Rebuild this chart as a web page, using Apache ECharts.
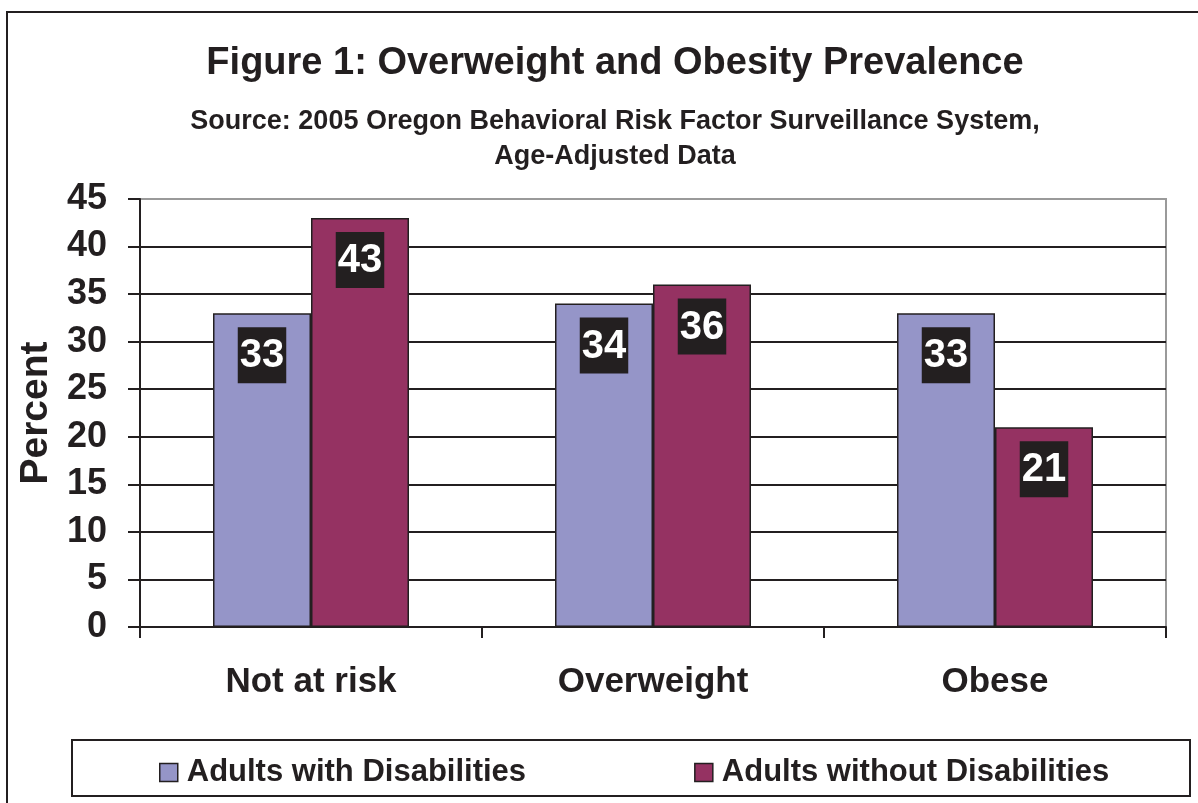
<!DOCTYPE html>
<html>
<head>
<meta charset="utf-8">
<script src="https://cdn.jsdelivr.net/npm/echarts@6/dist/echarts.min.js"></script>
<style>
  html, body { margin: 0; padding: 0; background: #fff; }
  #chart { width: 1198px; height: 803px; }
</style>
</head>
<body>
<div id="chart"></div>
<script>
const categories = ['Not at risk', 'Overweight', 'Obese'];
const withDisabilities = [33, 34, 33];
const withoutDisabilities = [43, 36, 21];
const seriesNames = ['Adults with Disabilities', 'Adults without Disabilities'];

const FONT = '"Liberation Sans", Arial, sans-serif';
const INK = '#231f20';

const chart = echarts.init(document.getElementById('chart'));

const valueLabel = {
  show: true,
  position: 'insideTop',
  distance: 14,
  color: '#fff',
  backgroundColor: INK,
  fontFamily: FONT,
  fontWeight: 'bold',
  fontSize: 40,
  lineHeight: 48,
  padding: [5, 2, 3, 2]
};

// gridlines: all dark except the top one, which is the grey plot border
const splitColors = [];
for (let i = 0; i < 9; i++) splitColors.push(INK);
splitColors.push('#9a9a9a');

const option = {
  animation: false,
  textStyle: { fontFamily: FONT },
  title: [
    {
      text: 'Figure 1: Overweight and Obesity Prevalence',
      left: 610, top: 40, textAlign: 'center',
      textStyle: { fontFamily: FONT, fontSize: 38, fontWeight: 'bold', color: INK }
    },
    {
      text: 'Source: 2005 Oregon Behavioral Risk Factor Surveillance System,\nAge-Adjusted Data',
      left: 610, top: 99, textAlign: 'center',
      textStyle: { fontFamily: FONT, fontSize: 27, fontWeight: 'bold', color: INK, lineHeight: 35 }
    }
  ],
  graphic: [
    {
      type: 'rect', z: -1,
      shape: { x: 7, y: 12, width: 1250, height: 850 },
      style: { fill: '#fff', stroke: INK, lineWidth: 2 }
    },
    {
      type: 'rect', z: -1,
      shape: { x: 72, y: 740, width: 1118, height: 56 },
      style: { fill: '#fff', stroke: INK, lineWidth: 2 }
    }
  ],
  legend: {
    left: 154, top: 752,
    itemWidth: 18, itemHeight: 18, itemGap: 168,
    icon: 'rect',
    itemStyle: { borderColor: INK, borderWidth: 1.5 },
    textStyle: { fontFamily: FONT, fontSize: 31, fontWeight: 'bold', color: INK, padding: [0, 0, 0, 4] },
    data: seriesNames
  },
  grid: {
    left: 140, right: 32, top: 199, bottom: 176,
    show: true, borderColor: '#9a9a9a', borderWidth: 2, backgroundColor: '#fff'
  },
  xAxis: {
    type: 'category',
    data: categories,
    axisLine: { lineStyle: { color: INK, width: 2 } },
    axisTick: { show: true, length: 11, lineStyle: { color: INK, width: 2 } },
    axisLabel: { margin: 38, fontFamily: FONT, fontSize: 35, fontWeight: 'bold', color: INK }
  },
  yAxis: {
    type: 'value',
    min: 0, max: 45, interval: 5,
    name: 'Percent',
    nameLocation: 'middle',
    nameGap: 84,
    nameRotate: 90,
    nameTextStyle: { fontFamily: FONT, fontSize: 39, fontWeight: 'bold', color: INK },
    axisLine: { show: true, lineStyle: { color: INK, width: 2 } },
    axisTick: { show: true, length: 12, lineStyle: { color: INK, width: 2 } },
    axisLabel: { margin: 33, fontFamily: FONT, fontSize: 36, fontWeight: 'bold', color: INK },
    splitLine: { show: true, lineStyle: { color: splitColors, width: 2 } }
  },
  series: [
    {
      name: seriesNames[0],
      type: 'bar',
      data: withDisabilities,
      barWidth: 98,
      barGap: '0%',
      itemStyle: { color: '#9595c8', borderColor: INK, borderWidth: 1.5 },
      label: valueLabel
    },
    {
      name: seriesNames[1],
      type: 'bar',
      data: withoutDisabilities,
      barWidth: 98,
      itemStyle: { color: '#953262', borderColor: INK, borderWidth: 1.5 },
      label: valueLabel
    }
  ]
};

chart.setOption(option);
</script>
</body>
</html>
